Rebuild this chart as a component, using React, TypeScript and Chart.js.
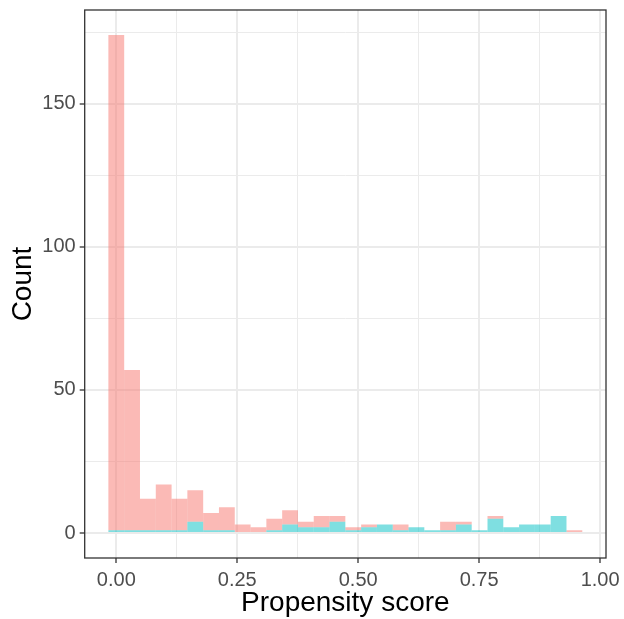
import React, { useEffect, useRef } from 'react';
import { Chart, registerables } from 'chart.js';

Chart.register(...registerables);

// Histogram bins (30 bins, ggplot default) — bin width in propensity-score units
const binWidth = 0.03265;
// Treated group (cyan), stacked at the bottom
const treatedCounts = [1, 1, 1, 1, 1, 4, 1, 1, 0, 0, 1, 3, 2, 2, 4, 1, 2, 3, 1, 2, 1, 1, 3, 1, 5, 2, 3, 3, 6, 0];
// Control group (salmon), stacked on top
const controlCounts = [173, 56, 11, 16, 11, 11, 6, 8, 3, 2, 4, 5, 2, 4, 2, 1, 1, 0, 2, 0, 0, 3, 1, 0, 1, 0, 0, 0, 0, 1];

const xTickValues = [0, 0.125, 0.25, 0.375, 0.5, 0.625, 0.75, 0.875, 1.0];
const xMajorTicks = [0, 0.25, 0.5, 0.75, 1.0];
const xTickLabels = ['0.00', '0.25', '0.50', '0.75', '1.00'];
const yTickValues = [0, 25, 50, 75, 100, 125, 150, 175];
const yMajorTicks = [0, 50, 100, 150];
const yTickLabels = ['0', '50', '100', '150'];

const xLimits = [-0.0653, 1.0122];
const yLimits = [-8.7, 182.7];

const xTitle = 'Propensity score';
const yTitle = 'Count';

const FONT = '"Liberation Sans", Arial, Helvetica, sans-serif';

const isMajor = (v: number, majors: number[]) => majors.some((m) => Math.abs(m - v) < 1e-9);

const framePlugin = {
  id: 'panelFrame',
  afterDraw(chart: any) {
    const { ctx, chartArea } = chart;
    const { left, top, right, bottom } = chartArea;
    ctx.save();
    ctx.strokeStyle = '#333333';
    ctx.lineWidth = 1.3;
    ctx.strokeRect(left, top, right - left, bottom - top);
    ctx.restore();
  },
};

export default function App() {
  const canvasRef = useRef<HTMLCanvasElement | null>(null);

  useEffect(() => {
    document.body.style.margin = '0';
    const canvas = canvasRef.current;
    if (!canvas) return;

    const centers = treatedCounts.map((_, i) => i * binWidth);

    const chart = new Chart(canvas, {
      type: 'bar',
      data: {
        datasets: [
          {
            label: 'Treated',
            data: centers.map((x, i) => ({ x, y: treatedCounts[i] })),
            backgroundColor: 'rgba(0,191,196,0.5)',
            borderWidth: 0,
            inflateAmount: 0,
            grouped: false,
            barPercentage: 1,
            categoryPercentage: 1,
          } as any,
          {
            label: 'Control',
            data: centers.map((x, i) => ({ x, y: controlCounts[i] })),
            backgroundColor: 'rgba(248,118,109,0.5)',
            borderWidth: 0,
            inflateAmount: 0,
            grouped: false,
            barPercentage: 1,
            categoryPercentage: 1,
          } as any,
        ],
      },
      options: {
        responsive: false,
        animation: false,
        events: [],
        layout: { padding: { top: 10, right: 18, bottom: 0, left: 0 } },
        plugins: {
          legend: { display: false },
          tooltip: { enabled: false },
        },
        scales: {
          x: {
            type: 'linear',
            min: xLimits[0],
            max: xLimits[1],
            offset: false,
            stacked: false,
            afterBuildTicks: (scale: any) => {
              scale.ticks = xTickValues.map((v) => ({ value: v }));
            },
            afterFit: (scale: any) => {
              scale.height = 61;
              scale.paddingLeft = 0;
              scale.paddingRight = 0;
            },
            ticks: {
              autoSkip: false,
              maxRotation: 0,
              padding: 5,
              color: '#4D4D4D',
              font: { family: FONT, size: 20 },
              callback: (value: any) => {
                const idx = xMajorTicks.findIndex((m) => Math.abs(m - value) < 1e-9);
                return idx >= 0 ? xTickLabels[idx] : '';
              },
            },
            grid: {
              offset: false,
              color: '#EBEBEB',
              lineWidth: (ctx: any) => (isMajor(ctx.tick?.value, xMajorTicks) ? 2 : 1),
              tickLength: 5,
              tickWidth: 1.3,
              tickColor: (ctx: any) => (isMajor(ctx.tick?.value, xMajorTicks) ? '#333333' : 'rgba(0,0,0,0)'),
            },
            border: { display: false },
            title: {
              display: true,
              text: xTitle,
              color: '#000000',
              font: { family: FONT, size: 28, lineHeight: 1 },
              padding: { top: 0, bottom: 2 },
            },
          },
          y: {
            type: 'linear',
            min: yLimits[0],
            max: yLimits[1],
            stacked: true,
            afterBuildTicks: (scale: any) => {
              scale.ticks = yTickValues.map((v) => ({ value: v }));
            },
            afterFit: (scale: any) => {
              scale.width = 84.7;
              scale.paddingTop = 0;
              scale.paddingBottom = 0;
            },
            ticks: {
              autoSkip: false,
              padding: 4,
              color: '#4D4D4D',
              font: { family: FONT, size: 20 },
              callback: (value: any) => {
                const idx = yMajorTicks.findIndex((m) => Math.abs(m - value) < 1e-9);
                return idx >= 0 ? yTickLabels[idx] : '';
              },
            },
            grid: {
              color: '#EBEBEB',
              lineWidth: (ctx: any) => (isMajor(ctx.tick?.value, yMajorTicks) ? 2 : 1),
              tickLength: 5,
              tickWidth: 1.3,
              tickColor: (ctx: any) => (isMajor(ctx.tick?.value, yMajorTicks) ? '#333333' : 'rgba(0,0,0,0)'),
            },
            border: { display: false },
            title: {
              display: true,
              text: yTitle,
              color: '#000000',
              font: { family: FONT, size: 28 },
              padding: { top: 6, bottom: 0 },
            },
          },
        },
      },
      plugins: [framePlugin],
    } as any);

    return () => {
      chart.destroy();
    };
  }, []);

  return (
    <canvas
      ref={canvasRef}
      width={624}
      height={619}
      style={{ display: 'block', width: '624px', height: '619px' }}
    />
  );
}
